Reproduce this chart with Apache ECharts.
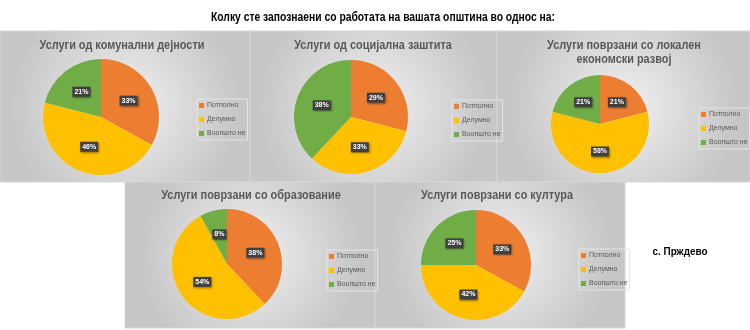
<!DOCTYPE html>
<html><head><meta charset="utf-8">
<script src="https://cdn.jsdelivr.net/npm/echarts@6/dist/echarts.min.js"></script>
<style>html,body{margin:0;padding:0;background:#fff}#c{width:750px;height:330px}</style>
</head><body><div id="c"></div>
<script>
var categories = ['Потполно', 'Делумно', 'Воопшто не'];
var mainTitle = 'Колку сте запознаени со работата на вашата општина во однос на:';
var placeName = 'с. Прждево';
var titles = [
  ['Услуги од комунални дејности'],
  ['Услуги од социјална заштита'],
  ['Услуги поврзани со локален', 'економски развој'],
  ['Услуги поврзани со образование'],
  ['Услуги поврзани со култура']
];
var komunalni = [33, 46, 21];
var socijalna = [29, 33, 38];
var ekonomski = [21, 58, 21];
var obrazovanie = [38, 54, 8];
var kultura = [33, 42, 25];
var seriesValues = [komunalni, socijalna, ekonomski, obrazovanie, kultura];

var colors = ['#ED7D31', '#FFC000', '#70AD47'];
var FONT = '"Liberation Sans", Arial, sans-serif';

var panels = [
  {x: 0, y: 31, w: 250, h: 151, cx: 101, cy: 117, r: 58, tx: 122, ty: 45, lx: 197, ly: 99},
  {x: 250, y: 31, w: 247, h: 151, cx: 351, cy: 117, r: 57, tx: 373, ty: 45, lx: 452, ly: 100},
  {x: 497, y: 31, w: 253, h: 151, cx: 600, cy: 124, r: 49, tx: 624, ty: 45, lx: 699, ly: 108},
  {x: 125, y: 182, w: 250, h: 146, cx: 227, cy: 264, r: 55, tx: 251, ty: 195, lx: 327, ly: 250},
  {x: 375, y: 182, w: 250, h: 146, cx: 476, cy: 265, r: 55, tx: 497, ty: 195, lx: 579, ly: 249}
];

var graphics = [];
panels.forEach(function (p) {
  graphics.push({
    type: 'rect', z: -10, silent: true,
    shape: {x: p.x, y: p.y, width: p.w, height: p.h},
    style: {
      fill: new echarts.graphic.RadialGradient(0.5, 0.5, 0.75, [
        {offset: 0, color: '#f1f1f1'},
        {offset: 1, color: '#c6c6c6'}
      ]),
      stroke: '#d6d6d6', lineWidth: 1
    }
  });
});
panels.forEach(function (p, i) {
  titles[i].forEach(function (line, j) {
    graphics.push({
      type: 'text', z: 10, x: p.tx, y: p.ty + j * 14, scaleX: 0.84,
      style: {text: line, fill: '#595959', font: 'bold 13px ' + FONT,
        textAlign: 'center', textVerticalAlign: 'middle'}
    });
  });
});
graphics.push({
  type: 'text', z: 10, x: 383, y: 18, scaleX: 0.86,
  style: {text: mainTitle, fill: '#000', font: 'bold 12px ' + FONT,
    textAlign: 'center', textVerticalAlign: 'middle'}
});
graphics.push({
  type: 'text', z: 10, x: 680, y: 252, scaleX: 0.9,
  style: {text: placeName, fill: '#000', font: 'bold 11px ' + FONT,
    textAlign: 'center', textVerticalAlign: 'middle'}
});

var series = panels.map(function (p, i) {
  return {
    type: 'pie',
    center: [p.cx, p.cy],
    radius: [0, p.r],
    startAngle: 90,
    clockwise: true,
    animation: false,
    label: {
      show: true, position: 'inside', formatter: '{c}%',
      color: '#fff', fontSize: 7, fontWeight: 'bold', fontFamily: FONT,
      backgroundColor: '#404040', padding: [2, 2, 1, 2],
      shadowColor: 'rgba(0,0,0,0.4)', shadowBlur: 2, shadowOffsetX: 1, shadowOffsetY: 1
    },
    labelLine: {show: false},
    itemStyle: {borderWidth: 0},
    emphasis: {disabled: true},
    data: categories.map(function (c, k) {
      return {name: c, value: seriesValues[i][k], itemStyle: {color: colors[k]}};
    })
  };
});

var legends = panels.map(function (p) {
  return {
    data: categories, orient: 'vertical', left: p.lx, top: p.ly,
    icon: 'rect', itemWidth: 5, itemHeight: 5, itemGap: 7,
    padding: [3, 2], borderColor: '#e4e4e4', borderWidth: 1,
    textStyle: {fontSize: 7, color: '#595959', fontFamily: FONT, padding: [0, 0, 0, -2]},
    selectedMode: false
  };
});

var chart = echarts.init(document.getElementById('c'), null, {renderer: 'canvas'});
chart.setOption({
  animation: false,
  color: colors,
  graphic: graphics,
  legend: legends,
  series: series
});
</script></body></html>
